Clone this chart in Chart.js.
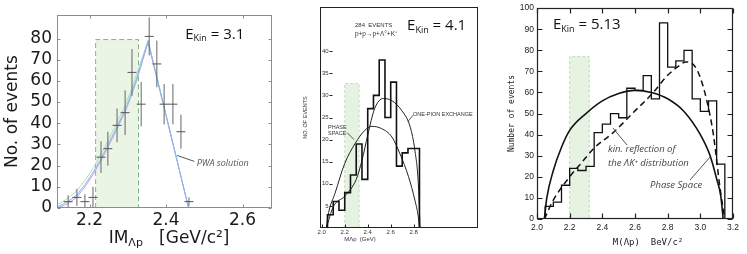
<!DOCTYPE html>
<html>
<head>
<meta charset="utf-8">
<script src="https://cdn.jsdelivr.net/npm/chart.js@4.4.1/dist/chart.umd.min.js"></script>
<style>
  body { margin: 0; background: #fff; }
  #wrap { position: relative; width: 747px; height: 254px; overflow: hidden; }
  canvas { position: absolute; top: 0; }
</style>
</head>
<body>
<div id="wrap">
  <canvas id="panelA" width="280" height="254" style="left:0"></canvas>
  <canvas id="panelB" width="200" height="254" style="left:282px"></canvas>
  <canvas id="panelC" width="265" height="254" style="left:482px"></canvas>
</div>
<script>
// ---- LEFT PANEL (Ekin = 3.1) : data points with errors + PWA solution
const massA = [2.144, 2.167, 2.188, 2.209, 2.23, 2.248, 2.272, 2.293, 2.311, 2.335, 2.356, 2.376, 2.395, 2.418, 2.439, 2.46]
const countsA = [3, 5, 3, 5, 24, 28, 39, 45, 64, 49, 81, 68, 49, 49, 36, 3]
const errA = [3, 4, 3.5, 5, 7.5, 8, 8, 10.5, 11, 10.5, 9, 11, 9.5, 9.5, 8, 2]
const pwaX = [2.116, 2.143, 2.166, 2.188, 2.21, 2.229, 2.249, 2.271, 2.297, 2.323, 2.353, 2.459, 2.677]
const pwaBlue = [0.5, 3, 6, 11, 17, 23, 30, 38, 48, 61, 79, 0, 0]
const pwaGreen = [1.5, 4.5, 8, 13, 19, 25, 32, 40, 50, 63, 79, 0, 0]
const pwaPink = [0, 2, 5, 10, 16, 22, 29, 37, 47, 60, 78, 0, 0]
const bandXA = [2.216, 2.216, 2.328, 2.328]
const bandYA = [0, 79.5, 79.5, 0]
const xTicksA = [2.2, 2.4, 2.6]
const yTicksA = [0, 10, 20, 30, 40, 50, 60, 70, 80]

// ---- MIDDLE PANEL (Ekin = 4.1) : 284 events histogram
const edgesB = [2.05, 2.10, 2.15, 2.20, 2.25, 2.30, 2.35, 2.40, 2.45, 2.50, 2.55, 2.60, 2.65, 2.70, 2.75, 2.80, 2.85]
const countsB = [3, 6, 4, 8, 12, 19, 11, 27, 30, 38, 25, 33, 14, 17, 18, 18]
const phaseXB = [2.04, 2.06, 2.115, 2.2, 2.29, 2.375, 2.435, 2.52, 2.61, 2.68, 2.755, 2.81, 2.84, 2.85]
const phaseYB = [0, 3.5, 7.8, 14.6, 19.1, 22.1, 23, 22.5, 20.6, 16.8, 11.6, 6.3, 2.5, 0]
const opeXB = [2.04, 2.1, 2.2, 2.3, 2.35, 2.4, 2.46, 2.535, 2.61, 2.695, 2.77, 2.81, 2.84, 2.855]
const opeYB = [0, 4.8, 7.2, 11, 15.3, 21, 27, 29.3, 28.8, 26.6, 22.8, 17.6, 10, 0]
const bandXB = [2.2, 2.2, 2.325, 2.325]
const bandYB = [0, 32.7, 32.7, 0]
const xTicksB = [2.0, 2.2, 2.4, 2.6, 2.8]
const yTicksB = [5, 10, 15, 20, 25, 30, 35, 40]

// ---- RIGHT PANEL (Ekin = 5.13)
const edgesC = [2.05, 2.10, 2.15, 2.20, 2.25, 2.30, 2.35, 2.40, 2.45, 2.50, 2.55, 2.60, 2.65, 2.70, 2.75, 2.80, 2.85, 2.90, 2.95, 3.00, 3.05, 3.10, 3.15]
const countsC = [6, 8, 16, 24, 23, 25, 41, 45, 50, 48, 62, 61, 68, 57, 93, 72, 75, 80, 57, 51, 56, 26]
const phaseXC = [2.045, 2.06, 2.1, 2.15, 2.2, 2.3, 2.4, 2.5, 2.6, 2.7, 2.8, 2.9, 3.0, 3.06, 3.1, 3.125, 3.14]
const phaseYC = [0, 10, 23, 34, 42, 50, 56, 59.5, 61, 60, 57, 51, 40, 30, 19, 11, 0]
const reflXC = [2.045, 2.1, 2.2, 2.26, 2.355, 2.467, 2.59, 2.712, 2.794, 2.876, 2.91, 2.96, 3.0, 3.04, 3.08, 3.12, 3.15]
const reflYC = [0, 9, 20, 25.5, 34, 41, 50.5, 60, 67.7, 73, 74.5, 73, 67, 56, 40, 15, 0]
const bandXC = [2.2, 2.2, 2.32, 2.32]
const bandYC = [0, 77, 77, 0]
const xTicksC = [2.0, 2.2, 2.4, 2.6, 2.8, 3.0, 3.2]
const yTicksC = [0, 10, 20, 30, 40, 50, 60, 70, 80, 90, 100]

const xy = (xs, ys) => xs.map((v, i) => ({ x: v, y: ys[i] }))

// histogram as a stepped outline, starting and ending on zero
function steps(edges, counts) {
  const pts = [{ x: edges[0], y: 0 }]
  counts.forEach((c, i) => pts.push({ x: edges[i], y: c }))
  pts.push({ x: edges[edges.length - 1], y: 0 })
  return pts
}

// box around the plot + inward tick marks at the scale ticks
const frameTicks = {
  id: 'frameTicks',
  afterDatasetsDraw(chart, args, o) {
    const { ctx, chartArea: a, scales: { x, y } } = chart
    const l = Math.round(a.left) + 0.5, r = Math.round(a.right) - 0.5
    const t = Math.round(a.top) + 0.5, b = Math.round(a.bottom) - 0.5
    const lOff = o.lOff || 0
    ctx.save()
    ctx.strokeStyle = o.color
    ctx.lineWidth = o.width
    ctx.strokeRect(l, t, r - l, b - t)
    ctx.beginPath()
    for (const tk of x.ticks) {
      const px = Math.round(x.getPixelForValue(tk.value)) + 0.5
      if (o.sides.includes('b')) { ctx.moveTo(px, b); ctx.lineTo(px, b - o.len) }
      if (o.sides.includes('t')) { ctx.moveTo(px, t); ctx.lineTo(px, t + o.len) }
    }
    for (const tk of y.ticks) {
      const py = Math.round(y.getPixelForValue(tk.value)) + 0.5
      if (o.sides.includes('l')) { ctx.moveTo(l + lOff, py); ctx.lineTo(l + lOff + o.len, py) }
      if (o.sides.includes('r')) { ctx.moveTo(r, py); ctx.lineTo(r - o.len, py) }
    }
    ctx.stroke()
    ctx.restore()
  }
}

// labels and leader lines placed in data coordinates
const notes = {
  id: 'notes',
  afterDraw(chart, args, o) {
    const { ctx, scales: { x, y } } = chart
    ctx.save()
    for (const ln of o.lines || []) {
      ctx.strokeStyle = ln.color
      ctx.lineWidth = ln.width || 1
      ctx.beginPath()
      ctx.moveTo(x.getPixelForValue(ln.from[0]), y.getPixelForValue(ln.from[1]))
      ctx.lineTo(x.getPixelForValue(ln.to[0]), y.getPixelForValue(ln.to[1]))
      ctx.stroke()
    }
    ctx.textBaseline = 'middle'
    ctx.textAlign = 'left'
    for (const n of o.texts || []) {
      let px = x.getPixelForValue(n.x)
      const py = y.getPixelForValue(n.y)
      if (n.center) {
        let w = 0
        for (const p of n.parts) { ctx.font = p[1]; w += ctx.measureText(p[0]).width }
        px -= w / 2
      }
      ctx.fillStyle = n.color
      for (const p of n.parts) {
        ctx.font = p[1]
        ctx.fillText(p[0], px, py + (p[2] || 0))
        px += ctx.measureText(p[0]).width
      }
    }
    ctx.restore()
  }
}

function axis(o) {
  return {
    type: 'linear', min: o.min, max: o.max,
    grid: { display: false, drawTicks: false },
    border: { display: false },
    afterFit: s => { if (o.w) s.width = o.w; if (o.h) s.height = o.h },
    afterBuildTicks: s => { s.ticks = o.ticks.map(v => ({ value: v })) },
    ticks: { font: o.font, color: o.color, padding: o.pad, maxRotation: 0, autoSkip: false, callback: o.fmt,
      mirror: !!o.mirror, crossAlign: o.mirror ? 'far' : 'near' },
    title: o.title ? { display: true, text: o.title, font: o.titleFont, color: o.color, padding: { top: o.titlePad, bottom: 0 } } : { display: false }
  }
}

const base = (pad) => ({
  responsive: false, animation: false, devicePixelRatio: 1, events: [],
  layout: { padding: pad },
  elements: { point: { radius: 0 }, line: { tension: 0 } }
})

const ekin = (val) => [['E', '15px "Open Sans"'], ['Kin', '9px "Open Sans"', 4], [' = ' + val, '15px "Open Sans"']]

// ---------------- LEFT
new Chart(document.getElementById('panelA'), {
  type: 'line',
  data: {
    datasets: [
      { data: xy(massA, countsA), showLine: false, pointStyle: 'line', pointRadius: 4.5, pointBorderColor: '#555', pointBorderWidth: 1 },
      { data: massA.flatMap((m, i) => [{ x: m, y: countsA[i] - errA[i] }, { x: m, y: countsA[i] + errA[i] }, { x: m, y: null }]), borderColor: '#666', borderWidth: 1 },
      { data: xy(pwaX, pwaBlue), borderColor: '#84b8ee', borderWidth: 1 },
      { data: xy(pwaX, pwaPink), borderColor: '#cf98e6', borderWidth: 1 },
      { data: xy(pwaX, pwaGreen), borderColor: '#a6e3b4', borderWidth: 1 },
      { data: xy(bandXA, bandYA), fill: 'origin', backgroundColor: 'rgba(214,236,206,0.5)', borderColor: '#86b486', borderWidth: 1, borderDash: [5, 3] }
    ]
  },
  options: {
    ...base({ top: 6, right: 8, left: 0, bottom: 0 }),
    plugins: {
      legend: { display: false }, tooltip: { enabled: false },
      frameTicks: { color: '#8c8c8c', width: 1, len: 3, sides: 'lbtr' },
      notes: {
        lines: [{ from: [2.429, 24.8], to: [2.474, 22], color: '#555' }],
        texts: [
          { x: 2.45, y: 82, color: '#111', parts: ekin('3.1') },
          { x: 2.48, y: 21.2, color: '#555', parts: [['PWA solution', 'italic 9px "Open Sans"']] },
          { x: 2.408, y: -14.4, center: true, color: '#1a1a1a', parts: [['IM', '17px "DejaVu Sans"'], ['Λp', '11px "DejaVu Sans"', 5], ['   [GeV/c²]', '17px "DejaVu Sans"']] }
        ]
      }
    },
    scales: {
      x: axis({ min: 2.115, max: 2.677, h: 46, ticks: xTicksA, font: { family: 'DejaVu Sans', size: 17 }, color: '#1a1a1a', pad: 2, fmt: v => v.toFixed(1) }),
      y: axis({ min: 0, max: 91, w: 57, ticks: yTicksA, font: { family: 'DejaVu Sans', size: 17 }, color: '#1a1a1a', pad: 5, fmt: v => String(v),
        title: 'No. of events', titleFont: { family: 'DejaVu Sans', size: 17 }, titlePad: 2 })
    }
  },
  plugins: [frameTicks, notes]
})

// ---------------- MIDDLE
new Chart(document.getElementById('panelB'), {
  type: 'line',
  data: {
    datasets: [
      { data: steps(edgesB, countsB), stepped: 'before', borderColor: '#111', borderWidth: 1.6 },
      { data: xy(phaseXB, phaseYB), borderColor: '#222', borderWidth: 1, cubicInterpolationMode: 'monotone' },
      { data: xy(opeXB, opeYB), borderColor: '#222', borderWidth: 1, cubicInterpolationMode: 'monotone' },
      { data: xy(bandXB, bandYB), fill: 'origin', backgroundColor: 'rgba(220,238,214,0.7)', borderColor: '#c2dfbb', borderWidth: 1, borderDash: [3, 2] }
    ]
  },
  options: {
    ...base({ top: 7, right: 4, left: 0, bottom: 0 }),
    plugins: {
      legend: { display: false }, tooltip: { enabled: false },
      frameTicks: { color: '#222', width: 1, len: 3, sides: 'lb', lOff: 9 },
      notes: {
        lines: [
          { from: [2.22, 21.6], to: [2.281, 20], color: '#333', width: 0.8 },
          { from: [2.794, 25.5], to: [2.75, 24.1], color: '#333', width: 0.8 }
        ],
        texts: [
          { x: 2.289, y: 45.9, color: '#333', parts: [['284  EVENTS', '6px "Liberation Sans"']] },
          { x: 2.289, y: 43.9, color: '#333', parts: [['p+p→p+Λ°+K⁺', '6.5px "Liberation Sans"']] },
          { x: 2.742, y: 45.7, color: '#111', parts: ekin('4.1') },
          { x: 2.794, y: 25.7, color: '#333', parts: [['ONE-PION EXCHANGE', '5.5px "Liberation Sans"']] },
          { x: 2.055, y: 22.7, color: '#333', parts: [['PHASE', '5.5px "Liberation Sans"']] },
          { x: 2.055, y: 21.4, color: '#333', parts: [['SPACE', '5.5px "Liberation Sans"']] },
          { x: 2.333, y: -2.5, center: true, color: '#333', parts: [['MΛp  (GeV)', '6px "Liberation Sans"']] }
        ]
      }
    },
    scales: {
      x: axis({ min: 1.985, max: 3.359, h: 26, ticks: xTicksB, font: { family: 'Liberation Sans', size: 6 }, color: '#333', pad: 1, fmt: v => v.toFixed(1) }),
      y: axis({ min: 0, max: 50, w: 38, ticks: yTicksB, font: { family: 'Liberation Sans', size: 6 }, color: '#333', pad: 2, fmt: v => String(v), mirror: true,
        title: 'NO. OF EVENTS', titleFont: { family: 'Liberation Sans', size: 5.5 }, titlePad: 20 })
    }
  },
  plugins: [frameTicks, notes]
})

// ---------------- RIGHT
new Chart(document.getElementById('panelC'), {
  type: 'line',
  data: {
    datasets: [
      { data: steps(edgesC, countsC), stepped: 'before', borderColor: '#111', borderWidth: 1.3 },
      { data: xy(phaseXC, phaseYC), borderColor: '#111', borderWidth: 1.6, cubicInterpolationMode: 'monotone' },
      { data: xy(reflXC, reflYC), borderColor: '#111', borderWidth: 1.5, borderDash: [6, 4], cubicInterpolationMode: 'monotone' },
      { data: xy(bandXC, bandYC), fill: 'origin', backgroundColor: 'rgba(220,238,214,0.7)', borderColor: '#bcdcb5', borderWidth: 1, borderDash: [3, 2] }
    ]
  },
  options: {
    ...base({ top: 8, right: 14, left: 0, bottom: 0 }),
    plugins: {
      legend: { display: false }, tooltip: { enabled: false },
      frameTicks: { color: '#222', width: 1.2, len: 5, sides: 'lbtr' },
      notes: {
        lines: [
          { from: [2.465, 43.1], to: [2.551, 35.1], color: '#555' },
          { from: [2.937, 18.5], to: [3.06, 29.4], color: '#555' }
        ],
        texts: [
          { x: 2.098, y: 91.9, color: '#111', parts: ekin('5.13') },
          { x: 2.435, y: 33.2, color: '#444', parts: [['kin. reflection of', 'italic 9.5px "Open Sans"']] },
          { x: 2.435, y: 26.5, color: '#444', parts: [['the ΛK⁺ distribution', 'italic 9.5px "Open Sans"']] },
          { x: 2.692, y: 16.1, color: '#444', parts: [['Phase Space', 'italic 9.5px "Open Sans"']] },
          { x: 2.68, y: -11.4, center: true, color: '#222', parts: [['M(Λp)  BeV/c²', '9px "DejaVu Sans Mono"']] }
        ]
      }
    },
    scales: {
      x: axis({ min: 2.0, max: 3.2, h: 35, ticks: xTicksC, font: { family: 'Liberation Sans', size: 8.5 }, color: '#222', pad: 4, fmt: v => v.toFixed(1) }),
      y: axis({ min: 0, max: 100, w: 55, ticks: yTicksC, font: { family: 'Liberation Sans', size: 8.5 }, color: '#222', pad: 3, fmt: v => String(v),
        title: 'Number of events', titleFont: { family: 'DejaVu Sans Mono', size: 8 }, titlePad: 25 })
    }
  },
  plugins: [frameTicks, notes]
})
</script>
</body>
</html>
